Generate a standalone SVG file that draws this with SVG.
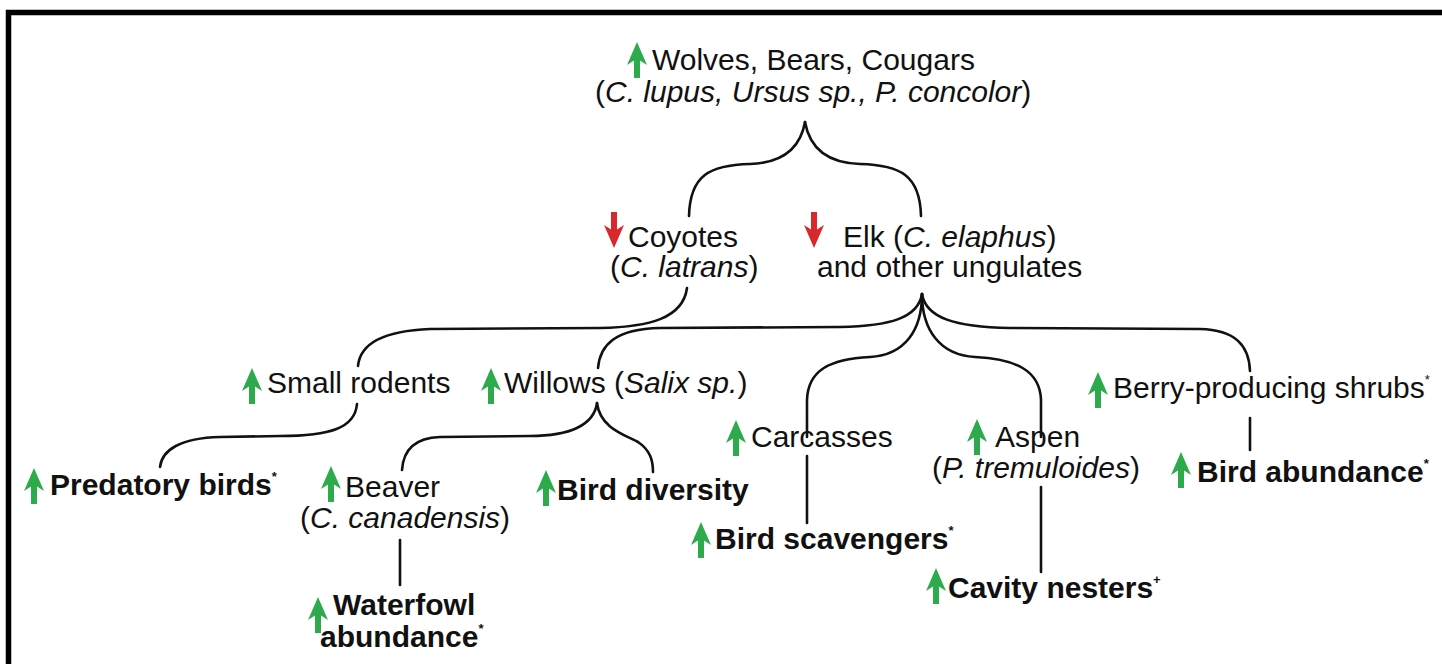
<svg xmlns="http://www.w3.org/2000/svg" width="1442" height="664" viewBox="0 0 1442 664">
<defs>
<style>
text{font-family:"Liberation Sans",Arial,sans-serif;font-size:30px;fill:#111}
.b{font-weight:bold}
.i{font-style:italic}
.sup{font-size:13px}
.con path,.con line{fill:none;stroke:#111;stroke-width:2.6;stroke-linecap:round}
.up{fill:#2daa4c}
.down{fill:#d8282c}
</style>
<symbol id="arrowUp" viewBox="0 0 18 36" overflow="visible">
<path d="M9,0 L19,23 L12,18.5 L12,36 L6,36 L6,18.5 L-1,23 Z"/>
</symbol>
<symbol id="arrowDown" viewBox="0 0 18 36" overflow="visible">
<path d="M9,36 L19,13 L12,17.5 L12,0 L6,0 L6,17.5 L-1,13 Z"/>
</symbol>
</defs>
<rect x="0" y="0" width="1442" height="664" fill="#fff"/>
<path d="M8.5,664 L8.5,12.5 L1442,12.5" fill="none" stroke="#000" stroke-width="5.5"/>

<g class="con" id="connectors">
<path d="M805,122 C800,150 780,163 750,164 C710,165 690,175 689,216"/>
<path d="M805,122 C810,150 830,163 860,164 C900,165 920,175 921,216"/>
<path d="M687,288 C683,318 650,327 600,328 L430,329 C380,331 360,345 358,366"/>
<path d="M922,294 C918,318 890,326 840,327 L660,328 C615,329 600,345 598,368"/>
<path d="M922,294 C922,330 905,355 870,357 C830,359 808,370 807,400 L807,437"/>
<path d="M922,294 C922,330 940,355 975,357 C1015,359 1040,370 1041,400 L1041,437"/>
<path d="M922,294 C926,318 955,327 1010,328 L1200,329 C1235,330 1249,345 1250,371"/>
<path d="M357,404 C355,428 330,436 280,436 L220,437 C180,438 162,450 160,467"/>
<path d="M597,403 C594,425 570,436 530,436 L440,437 C410,438 403,455 402,470"/>
<path d="M597,403 C600,428 625,435 638,442 C650,450 653,460 653,472"/>
<line x1="400" y1="540" x2="400" y2="585"/>
<line x1="807" y1="456" x2="807" y2="523"/>
<line x1="1041" y1="487" x2="1041" y2="572"/>
<line x1="1250" y1="418" x2="1250" y2="450"/>
</g>

<g id="predators">
<use href="#arrowUp" class="up" x="628" y="42" width="18" height="36"/>
<text x="652" y="70">Wolves, Bears, Cougars</text>
<text x="595" y="102">(<tspan class="i">C. lupus, Ursus sp., P. concolor</tspan>)</text>
</g>
<g id="coyotes">
<use href="#arrowDown" class="down" x="605" y="212" width="18" height="36"/>
<text x="628" y="247">Coyotes</text>
<text x="610" y="277">(<tspan class="i">C. latrans</tspan>)</text>
</g>
<g id="elk">
<use href="#arrowDown" class="down" x="805" y="212" width="18" height="36"/>
<text x="843" y="247">Elk (<tspan class="i">C. elaphus</tspan>)</text>
<text x="817" y="277">and other ungulates</text>
</g>
<g id="rodents">
<use href="#arrowUp" class="up" x="243" y="368" width="18" height="36"/>
<text x="267" y="393">Small rodents</text>
</g>
<g id="willows">
<use href="#arrowUp" class="up" x="482" y="368" width="18" height="36"/>
<text x="504" y="393">Willows (<tspan class="i">Salix sp.</tspan>)</text>
</g>
<g id="berry">
<use href="#arrowUp" class="up" x="1089" y="372" width="18" height="36"/>
<text x="1113" y="398">Berry-producing shrubs<tspan class="sup" dy="-14">*</tspan></text>
</g>
<g id="carcasses">
<use href="#arrowUp" class="up" x="727" y="420" width="18" height="36"/>
<text x="751" y="447">Carcasses</text>
</g>
<g id="aspen">
<use href="#arrowUp" class="up" x="968" y="419" width="18" height="36"/>
<text x="995" y="447">Aspen</text>
<text x="932" y="478">(<tspan class="i">P. tremuloides</tspan>)</text>
</g>
<g id="birdabundance">
<use href="#arrowUp" class="up" x="1172" y="452" width="18" height="36"/>
<text class="b" x="1197" y="482">Bird abundance<tspan class="sup" dy="-14">*</tspan></text>
</g>
<g id="predatorybirds">
<use href="#arrowUp" class="up" x="25" y="468" width="18" height="36"/>
<text class="b" x="50" y="495">Predatory birds<tspan class="sup" dy="-14">*</tspan></text>
</g>
<g id="beaver">
<use href="#arrowUp" class="up" x="322" y="466" width="18" height="36"/>
<text x="345" y="497">Beaver</text>
<text x="300" y="528">(<tspan class="i">C. canadensis</tspan>)</text>
</g>
<g id="birddiversity">
<use href="#arrowUp" class="up" x="537" y="470" width="18" height="36"/>
<text class="b" x="557" y="500">Bird diversity</text>
</g>
<g id="waterfowl">
<use href="#arrowUp" class="up" x="309" y="597" width="18" height="36"/>
<text class="b" x="333" y="615">Waterfowl</text>
<text class="b" x="320" y="647">abundance<tspan class="sup" dy="-14">*</tspan></text>
</g>
<g id="scavengers">
<use href="#arrowUp" class="up" x="692" y="522" width="18" height="36"/>
<text class="b" x="715" y="549">Bird scavengers<tspan class="sup" dy="-14">*</tspan></text>
</g>
<g id="cavity">
<use href="#arrowUp" class="up" x="927" y="568" width="18" height="36"/>
<text class="b" x="948" y="598">Cavity nesters<tspan class="sup" dy="-14">+</tspan></text>
</g>
</svg>
